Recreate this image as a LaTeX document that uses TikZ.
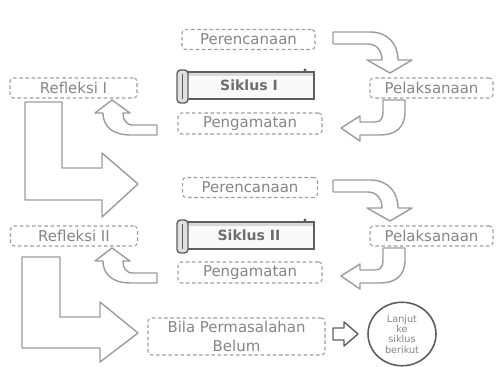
\documentclass[tikz,border=0pt]{standalone}
\usepackage{fontspec}
\setmainfont{DejaVu Sans}
\usetikzlibrary{shapes.geometric}
\definecolor{garis}{HTML}{9C9C9C}
\definecolor{teks}{HTML}{858585}
\definecolor{gelap}{HTML}{5E5E5E}

\begin{document}
\begin{tikzpicture}[x=0.02cm, y=-0.02cm,
  kotak/.style={draw=garis, dash pattern=on 2pt off 1.5pt, rounded corners=2pt,
    line width=0.6pt, text=teks, font=\fontsize{8.5}{10}\selectfont,
    inner sep=0pt, minimum height=0.4cm},
  blok/.style={draw=garis, line width=0.8pt, fill=white, line join=round},
  gulung/.style={draw=gelap, line width=0.9pt, fill=gray!5,
    text=gelap!90, font=\bfseries\fontsize{8}{10}\selectfont,
    minimum width=2.6cm, minimum height=0.54cm, inner sep=0pt},
  rol/.style={draw=gelap, line width=0.8pt, fill=gray!25, rounded corners=2pt}]

\useasboundingbox (0,0) rectangle (496,367);

%% siklus I
\node[kotak, minimum width=2.66cm] (per1) at (248.5,39.5) {Perencanaan};
\node[gulung] (sik1) at (249,85.5) {Siklus I};
\fill[gray!30] (186,73) rectangle (313,76);
\draw[rol] (177,70) rectangle (188,103);
\draw[gelap, line width=0.5pt] (182.5,74) -- (182.5,99);
\fill[gelap] (305,70) circle (1.6);
\node[kotak, minimum width=2.46cm] (pel1) at (431.5,88) {Pelaksanaan};
\node[kotak, minimum width=2.88cm, minimum height=0.42cm] (pen1) at (250,123.5) {Pengamatan};
\node[kotak, minimum width=2.54cm] (ref1) at (73.5,88) {Refleksi I};

%% siklus II
\node[kotak, minimum width=2.7cm] (per2) at (250,187.5) {Perencanaan};
\node[gulung] (sik2) at (249,235.5) {Siklus II};
\fill[gray!30] (186,223) rectangle (313,226);
\draw[rol] (177,220) rectangle (188,253);
\draw[gelap, line width=0.5pt] (182.5,224) -- (182.5,249);
\fill[gelap] (305,220) circle (1.6);
\node[kotak, minimum width=2.46cm] (pel2) at (431.5,236) {Pelaksanaan};
\node[kotak, minimum width=2.88cm, minimum height=0.42cm] (pen2) at (250,272.5) {Pengamatan};
\node[kotak, minimum width=2.54cm] (ref2) at (74,236) {Refleksi II};

%% akhir
\node[kotak, minimum width=3.54cm, minimum height=0.74cm, align=center,
  font=\fontsize{8.5}{10.5}\selectfont] (bila) at (236.5,336.5) {Bila Permasalahan\\Belum};
\node[ellipse, draw=gelap, line width=0.9pt, minimum width=1.36cm, minimum height=1.27cm,
  inner sep=0pt, align=center, text=teks, font=\fontsize{5.5}{5.9}\selectfont]
  (lanjut) at (402,334) {Lanjut\\ke\\siklus\\berikut};

%% panah lengkung siklus I
\draw[blok] (333,32) -- (370,32) .. controls (388,32) and (398,44) .. (398,60)
  -- (412,60) -- (390,73) -- (367,60) -- (382,60)
  .. controls (382,50) and (376,44) .. (368,44) -- (333,44) -- cycle;   %% per1 - pel1
\draw[blok] (383,100) -- (405,100) -- (405,112) .. controls (405,128) and (395,135) .. (380,135)
  -- (360,135) -- (360,141) -- (341,128) -- (360,116) -- (360,122) -- (375,122)
  .. controls (381,122) and (383,118) .. (383,112) -- cycle;           %% pel1 - pen1
\draw[blok] (157,125) -- (133,125) .. controls (126,125) and (123,120) .. (123,113)
  -- (130,113) -- (112,100) -- (95,113) -- (103,113)
  .. controls (103,128) and (115,135) .. (130,135) -- (157,135) -- cycle; %% pen1 - ref1

%% panah lengkung siklus II
\draw[blok] (333,180) -- (370,180) .. controls (388,180) and (398,192) .. (398,208)
  -- (412,208) -- (390,221) -- (367,208) -- (382,208)
  .. controls (382,198) and (376,192) .. (368,192) -- (333,192) -- cycle; %% per2 - pel2
\draw[blok] (383,248) -- (405,248) -- (405,260) .. controls (405,276) and (395,283) .. (380,283)
  -- (360,283) -- (360,289) -- (341,276) -- (360,264) -- (360,270) -- (375,270)
  .. controls (381,270) and (383,266) .. (383,260) -- cycle;           %% pel2 - pen2
\draw[blok] (157,273) -- (133,273) .. controls (126,273) and (123,268) .. (123,261)
  -- (130,261) -- (112,248) -- (95,261) -- (103,261)
  .. controls (103,276) and (115,283) .. (130,283) -- (157,283) -- cycle; %% pen2 - ref2

%% panah L
\draw[blok] (25,102) -- (62,102) -- (62,168) -- (102,168) -- (102,153) -- (138,184)
  -- (102,217) -- (102,200) -- (25,200) -- cycle;                      %% ref1 - per2
\draw[blok] (22,257) -- (60,257) -- (60,317) -- (100,317) -- (100,302) -- (138,333)
  -- (100,362) -- (100,348) -- (22,348) -- cycle;                      %% ref2 - bila

%% panah kecil
\draw[draw=gelap, line width=0.8pt, fill=white, line join=round] (333,328) -- (344,328)
  -- (344,322) -- (358,334) -- (344,346) -- (344,340) -- (333,340) -- cycle; %% bila - lanjut

\end{tikzpicture}
\end{document}
